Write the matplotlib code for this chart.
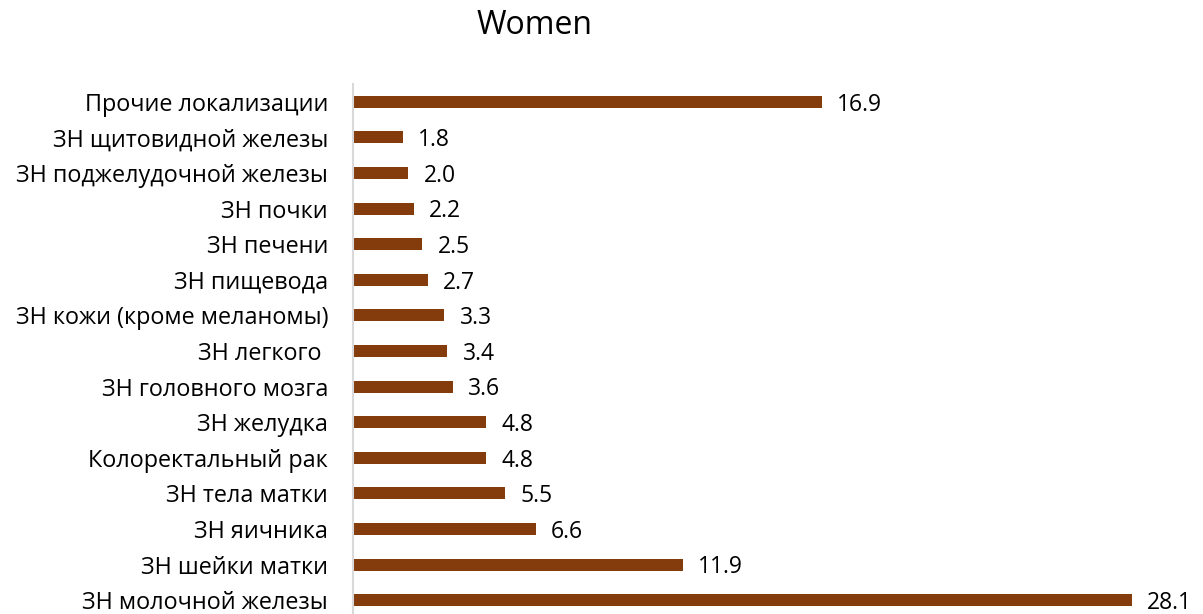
import matplotlib
matplotlib.use("Agg")
import matplotlib.pyplot as plt

categories = [
    "ЗН молочной железы",
    "ЗН шейки матки",
    "ЗН яичника",
    "ЗН тела матки",
    "Колоректальный рак",
    "ЗН желудка",
    "ЗН головного мозга",
    "ЗН легкого ",
    "ЗН кожи (кроме меланомы)",
    "ЗН пищевода",
    "ЗН печени",
    "ЗН почки",
    "ЗН поджелудочной железы",
    "ЗН щитовидной железы",
    "Прочие локализации",
]
values = [28.1, 11.9, 6.6, 5.5, 4.8, 4.8, 3.6, 3.4, 3.3, 2.7, 2.5, 2.2, 2.0, 1.8, 16.9]

plt.rcParams["font.family"] = ["Open Sans", "DejaVu Sans"]

W, H = 1203, 614
fig = plt.figure(figsize=(W / 100, H / 100), dpi=100)

# axes geometry in pixels
left_px, right_px = 353, 1203
top_px, bottom_px = 84, 618
ax = fig.add_axes([left_px / W, (H - bottom_px) / H,
                   (right_px - left_px) / W, (bottom_px - top_px) / H])

px_per_unit = (1132 - 353) / 28.1
ax.set_xlim(0, (right_px - left_px) / px_per_unit)
ax.set_ylim(-0.5, len(categories) - 0.5)

y = list(range(len(categories)))
ax.barh(y, values, height=0.34, color="#843C0C")

for yi, v in zip(y, values):
    ax.annotate(f"{v:.1f}", xy=(v, yi), xytext=(11, -2), textcoords="offset points",
                ha="left", va="center", fontsize=16.5, color="#000000")

ax.set_yticks(y)
ax.set_yticklabels(categories, fontsize=16.8)
ax.tick_params(axis="y", length=0, pad=18)
ax.set_xticks([])

for s in ["top", "right", "bottom"]:
    ax.spines[s].set_visible(False)
ax.spines["left"].set_color("#d9d9d9")
ax.spines["left"].set_linewidth(1.5)

fig.text(535 / W, 1 - 25 / H, "Women", ha="center", va="center", fontsize=23)

fig.savefig("out.png", dpi=100)
